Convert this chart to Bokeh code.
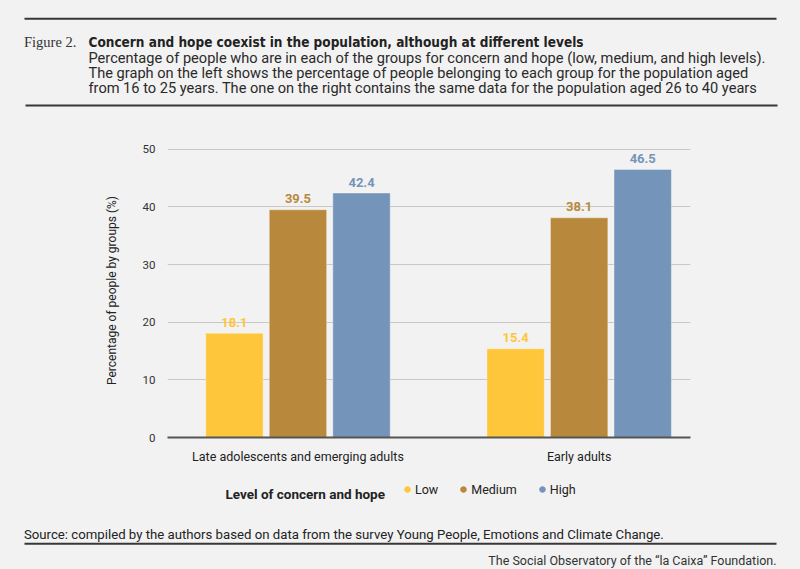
from bokeh.plotting import figure
from bokeh.layouts import column
from bokeh.models import (ColumnDataSource, Range1d, FixedTicker, Legend, LegendItem, Plot)
from bokeh.transform import dodge
from bokeh.embed import file_html
from bokeh.resources import INLINE
from bokeh.core.properties import value

# ---------------- data ----------------
groups = ["Late adolescents and emerging adults", "Early adults"]
levels = ["Low", "Medium", "High"]
low = [18.1, 15.4]
medium = [39.5, 38.1]
high = [42.4, 46.5]
y_ticks = [0, 10, 20, 30, 40, 50]
colors = ["#FEC63A", "#B8893C", "#7494B9"]

fig_label = "Figure 2."
title = "Concern and hope coexist in the population, although at different levels"
subtitle = [
    "Percentage of people who are in each of the groups for concern and hope (low, medium, and high levels).",
    "The graph on the left shows the percentage of people belonging to each group for the population aged",
    "from 16 to 25 years. The one on the right contains the same data for the population aged 26 to 40 years",
]
y_label = "Percentage of people by groups (%)"
legend_title = "Level of concern and hope"
source_note = "Source: compiled by the authors based on data from the survey Young People, Emotions and Climate Change."
footer = "The Social Observatory of the \u201cla Caixa\u201d Foundation."

BG = "#f2f2f2"
FONT = "Roboto"
RULE = "#3b3634"
W = 800

HAS_FRAME_ALIGN = "frame_align" in Plot.properties()


def no_align(f):
    if HAS_FRAME_ALIGN:
        f.frame_align = False
    return f


def panel(h, y_top):
    """A figure whose frame is the whole canvas; data coords == page pixels."""
    f = figure(width=W, height=h, output_backend="svg", toolbar_location=None,
               x_range=Range1d(0, W), y_range=Range1d(y_top + h, y_top),
               x_axis_type=None, y_axis_type=None,
               min_border=0, min_border_left=0, min_border_right=0,
               min_border_top=0, min_border_bottom=0,
               background_fill_color=BG, border_fill_color=BG, outline_line_color=None)
    f.grid.visible = False
    return no_align(f)


def txt(f, x, y, s, size="13px", style="normal", font=FONT, color="#222222", align="left"):
    f.text(x=[x], y=[y], text=[s], text_font=value(font), text_font_size=size,
           text_font_style=style, text_color=color, text_align=align,
           text_baseline="alphabetic")


# ---------------- header ----------------
HH = 110
hdr = panel(HH, 0)
hdr.segment(x0=[24, 25], y0=[18.3, 105], x1=[776, 777], y1=[18.3, 105],
            line_color=RULE, line_width=2)
txt(hdr, 23.5, 41, fig_label, size="14.5px", font="Liberation Serif", color="#333333")
txt(hdr, 88, 41, title, size="13.5px", style="bold",
    font="'Liberation Sans Narrow', 'DejaVu Sans Condensed', Roboto", color="#222222")
for i, line in enumerate(subtitle):
    txt(hdr, 88, 57.5 + 15 * i, line, size="14.6px", color="#2a2a2a")

# ---------------- chart ----------------
CH = 360
p = figure(width=W, height=CH, output_backend="svg", toolbar_location=None,
           x_range=Range1d(-0.464, 1.396), y_range=Range1d(0, 51),
           min_border_left=167, min_border_right=110, min_border_top=33, min_border_bottom=33,
           background_fill_color=BG, border_fill_color=BG, outline_line_color=None)
no_align(p)

src = ColumnDataSource(data=dict(
    x=list(range(len(groups))),
    Low=low, Medium=medium, High=high,
    Low_t=["%.1f" % v for v in low],
    Medium_t=["%.1f" % v for v in medium],
    High_t=["%.1f" % v for v in high],
))

offsets = [-0.226, 0.0, 0.226]
bw = 0.204
for lev, off, col in zip(levels, offsets, colors):
    p.vbar(x=dodge("x", off, range=p.x_range), top=lev, width=bw, bottom=0, source=src,
           fill_color=col, line_color="white", line_alpha=0.35, line_width=1)
    p.text(x=dodge("x", off, range=p.x_range), y=lev, text=lev + "_t", source=src,
           text_color=col, text_font=value(FONT), text_font_style="bold",
           text_font_size="13px", text_align="center", text_baseline="alphabetic",
           y_offset=-11)

p.xaxis.ticker = FixedTicker(ticks=list(range(len(groups))))
p.xaxis.major_label_overrides = {i: g for i, g in enumerate(groups)}
p.xaxis.major_tick_line_color = None
p.xaxis.major_tick_out = 0
p.xaxis.major_tick_in = 0
p.xaxis.minor_tick_line_color = None
p.xaxis.axis_line_color = "#555555"
p.xaxis.axis_line_width = 2
p.xaxis.major_label_text_font = FONT
p.xaxis.major_label_text_font_size = "12.5px"
p.xaxis.major_label_text_color = "#222222"
p.xaxis.major_label_standoff = 11

p.yaxis.ticker = FixedTicker(ticks=y_ticks)
p.yaxis.axis_line_color = None
p.yaxis.major_tick_line_color = None
p.yaxis.major_tick_out = 0
p.yaxis.major_tick_in = 0
p.yaxis.minor_tick_line_color = None
p.yaxis.major_label_text_font = FONT
p.yaxis.major_label_text_font_size = "11.5px"
p.yaxis.major_label_text_color = "#333333"
p.yaxis.major_label_standoff = 12
p.yaxis.axis_label = y_label
p.yaxis.axis_label_text_font = FONT
p.yaxis.axis_label_text_font_size = "12px"
p.yaxis.axis_label_text_font_style = "normal"
p.yaxis.axis_label_text_color = "#222222"
p.yaxis.axis_label_standoff = 21

p.xgrid.grid_line_color = None
p.ygrid.grid_line_color = "#c8c8c8"
p.ygrid.grid_line_width = 1

# ---------------- footer (legend + notes) ----------------
FT = HH + CH
FH = 569 - FT
ftr = panel(FH, FT)
txt(ftr, 225, 493.5, legend_title, size="13.5px", style="bold", color="#222222")
items = []
for lev, col in zip(levels, colors):
    # a point far outside the view: only its legend swatch is shown
    r = ftr.scatter(x=[-1000], y=[-1000], marker="circle", size=6,
                    fill_color=col, line_color=col)
    items.append(LegendItem(label=lev, renderers=[r]))
leg = Legend(items=items, orientation="horizontal", location=(400, 569 - 496.5),
             padding=0, margin=0, border_line_color=None, background_fill_alpha=0,
             glyph_width=14, glyph_height=14, label_standoff=1, spacing=18,
             label_text_font=FONT, label_text_font_size="12.5px", label_text_color="#222222")
ftr.add_layout(leg, "center")

txt(ftr, 23.5, 533.5, source_note, size="13.2px", color="#222222")
ftr.segment(x0=[24], y0=[543.3], x1=[776], y1=[543.3], line_color=RULE, line_width=2)
txt(ftr, 776, 559.5, footer, size="12.5px", color="#333333", align="right")

layout = column(hdr, p, ftr, spacing=0)
html = file_html(layout, INLINE)
html = html.replace("</head>", "<style>html, body { background-color: %s; }</style></head>" % BG, 1)
open("out.html", "w").write(html)
